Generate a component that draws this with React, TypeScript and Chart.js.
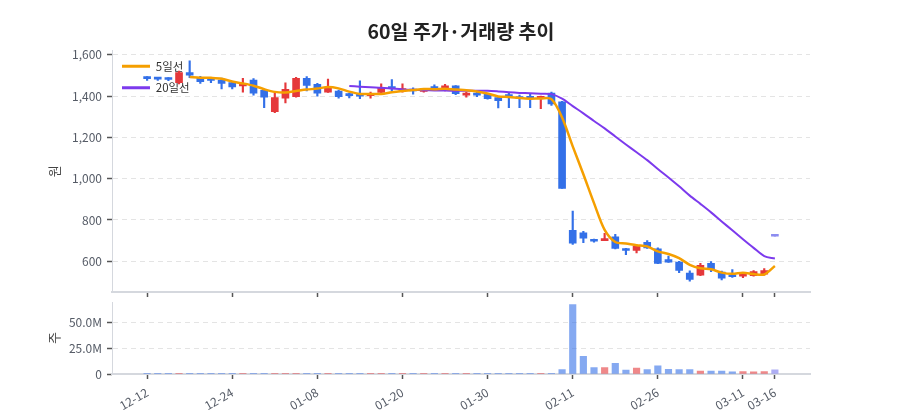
import React, { useEffect, useRef } from 'react';
import { Chart, registerables } from 'chart.js';

Chart.register(...registerables);

const FONT = "'Noto Sans CJK KR', 'Noto Sans', sans-serif";
Chart.defaults.font.family = FONT;

// ---- data ----
const dates = [
  '12-12', '12-15', '12-16', '12-17', '12-18', '12-19', '12-22', '12-23', '12-24', '12-26',
  '12-29', '12-30', '01-02', '01-05', '01-06', '01-07', '01-08', '01-09', '01-12', '01-13',
  '01-14', '01-15', '01-16', '01-19', '01-20', '01-21', '01-22', '01-23', '01-26', '01-27',
  '01-28', '01-29', '01-30', '02-02', '02-03', '02-04', '02-05', '02-06', '02-09', '02-10',
  '02-11', '02-12', '02-13', '02-19', '02-20', '02-23', '02-24', '02-25', '02-26', '02-27',
  '03-03', '03-04', '03-05', '03-06', '03-09', '03-10', '03-11', '03-12', '03-13', '03-16',
];
const tickLabels = ['12-12', '12-24', '01-08', '01-20', '01-30', '02-11', '02-26', '03-11', '03-16'];
const priceTicks = [600, 800, 1000, 1200, 1400, 1600];
const volumeTicks = [0, 25, 50];

const opens = [
  1488, 1486, 1484, 1465, 1515, 1490, 1482, 1478, 1466, 1450,
  1478, 1428, 1325, 1390, 1398, 1487, 1458, 1420, 1425, 1413,
  1413, 1403, 1418, 1447, 1427, 1435, 1423, 1447, 1437, 1450,
  1405, 1414, 1410, 1393, 1408, 1398, 1395, 1390, 1415, 1373,
  750, 738, 703, 700, 718, 660, 652, 692, 660, 608,
  596, 543, 532, 590, 548, 530, 528, 530, 537, 721,
];
const highs = [
  1495, 1492, 1490, 1522, 1572, 1496, 1485, 1488, 1470, 1487,
  1485, 1432, 1420, 1465, 1492, 1495, 1462, 1483, 1430, 1415,
  1475, 1420, 1460, 1480, 1460, 1440, 1438, 1455, 1458, 1452,
  1420, 1420, 1412, 1398, 1415, 1405, 1410, 1400, 1420, 1375,
  843, 745, 707, 735, 730, 663, 680, 700, 665, 625,
  600, 553, 590, 598, 552, 560, 540, 555, 565, 721,
];
const lows = [
  1476, 1476, 1475, 1460, 1490, 1462, 1465, 1435, 1435, 1420,
  1405, 1345, 1320, 1368, 1395, 1425, 1400, 1418, 1390, 1392,
  1388, 1390, 1412, 1425, 1420, 1410, 1420, 1428, 1425, 1408,
  1395, 1398, 1385, 1343, 1345, 1345, 1345, 1340, 1355, 953,
  682, 690, 692, 700, 660, 632, 640, 662, 588, 594,
  545, 503, 530, 550, 510, 522, 520, 528, 532, 721,
];
const closes = [
  1485, 1483, 1481, 1515, 1502, 1470, 1476, 1462, 1445, 1455,
  1415, 1395, 1393, 1433, 1487, 1452, 1415, 1440, 1398, 1403,
  1400, 1414, 1442, 1436, 1435, 1425, 1435, 1437, 1450, 1412,
  1412, 1405, 1388, 1378, 1398, 1388, 1390, 1393, 1362, 953,
  688, 712, 697, 708, 662, 652, 672, 665, 590, 595,
  555, 512, 580, 562, 518, 525, 534, 550, 555, 721,
];
const ma5 = [
  null, null, null, null, 1493, 1490, 1489, 1485, 1471, 1462,
  1451, 1434, 1421, 1418, 1425, 1432, 1437, 1445, 1438, 1422,
  1411, 1411, 1411, 1419, 1425, 1430, 1435, 1434, 1436, 1432,
  1429, 1423, 1413, 1399, 1396, 1391, 1388, 1389, 1386, 1297,
  1157, 1022, 882, 752, 693, 686, 678, 672, 648, 635,
  615, 583, 566, 561, 545, 539, 544, 538, 536, 577,
];
const ma20 = [
  null, null, null, null, null, null, null, null, null, null,
  null, null, null, null, null, null, null, null, null, 1450,
  1446, 1443, 1441, 1437, 1433, 1431, 1429, 1428, 1428, 1426,
  1426, 1426, 1426, 1423, 1419, 1416, 1414, 1412, 1410, 1388,
  1352, 1317, 1280, 1244, 1205, 1166, 1128, 1090, 1047, 1006,
  963, 918, 878, 837, 793, 750, 707, 665, 625, 613,
];
// volume in millions of shares
const volumesM = [
  0.08, 0.3, 0.05, 0.3, 0.1, 0.05, 0.05, 0.05, 0.05, 0.3,
  0.05, 0.3, 0.3, 0.3, 0.3, 0.08, 0.05, 0.05, 0.05, 0.05,
  0.3, 0.05, 0.05, 0.05, 0.05, 0.05, 0.05, 0.05, 0.3, 0.05,
  0.05, 0.05, 0.05, 0.4, 0.05, 0.3, 0.05, 0.05, 0.6, 4.3,
  67, 17, 6.2, 6.2, 10.2, 3.7, 5.6, 4.3, 8, 4.6,
  4.3, 4.3, 2.8, 2.8, 2.8, 2, 2.3, 2, 2.3, 4,
];

// ---- styles ----
const RED = '#e5383b';
const BLUE = '#3370e8';
const FLAT = '#8c8cf0';
const RED_V = 'rgba(229,56,59,0.6)';
const BLUE_V = 'rgba(51,112,232,0.6)';
const FLAT_V = 'rgba(140,140,240,0.7)';
const ORANGE = '#f59f00';
const PURPLE = '#7c3aed';
const TICK_TEXT = '#555b66';
const AXIS_LINE = '#d5d8de';
const GRID = '#e4e4e4';

const X_MIN = -3.3;
const X_MAX = 62.3;
const tickIdx = tickLabels.map((l) => dates.indexOf(l));

const dir = (i: number) => (closes[i] > opens[i] ? 1 : closes[i] < opens[i] ? -1 : 0);
const candleColors = dates.map((_, i) => (dir(i) > 0 ? RED : dir(i) < 0 ? BLUE : FLAT));
const volColors = dates.map((_, i) => (dir(i) > 0 ? RED_V : dir(i) < 0 ? BLUE_V : FLAT_V));

const lineData = (arr: (number | null)[]) =>
  arr.map((v, i) => ({ x: i, y: v })).filter((p) => p.y !== null);

// legend inside the plot area, title centred over the plot area
const areaBoxes = {
  id: 'areaBoxes',
  afterLayout(chart: any) {
    const ca = chart.chartArea;
    if (!ca) return;
    const lg = chart.legend;
    if (lg) {
      lg.top = ca.top;
      lg.bottom = ca.bottom;
      lg.left = ca.left;
    }
    const tb = chart.titleBlock;
    if (tb) {
      tb.left = ca.left;
      tb.right = ca.right;
      tb.width = ca.right - ca.left;
    }
  },
};

function xScale(showLabels: boolean, height: number) {
  return {
    type: 'linear',
    min: X_MIN,
    max: X_MAX,
    offset: false,
    afterBuildTicks: (s: any) => {
      s.ticks = tickIdx.map((v) => ({ value: v }));
    },
    afterFit: (s: any) => {
      s.height = height;
    },
    grid: {
      display: true,
      offset: false,
      drawOnChartArea: false,
      drawTicks: true,
      tickLength: 5,
      tickColor: '#555',
      tickWidth: 1.5,
    },
    border: { display: true, color: AXIS_LINE, width: 2 },
    ticks: showLabels
      ? {
          display: true,
          autoSkip: false,
          minRotation: 30,
          maxRotation: 30,
          padding: 6,
          color: TICK_TEXT,
          font: { size: 12, family: FONT },
          callback: (v: any) => dates[Math.round(v)] ?? '',
        }
      : { display: false },
  };
}

function yScaleCommon(title: string, tickValues: number[]) {
  return {
    afterFit: (s: any) => {
      s.width = 104;
    },
    afterBuildTicks: (s: any) => {
      s.ticks = tickValues.map((v) => ({ value: v }));
    },
    grid: {
      color: GRID,
      drawTicks: true,
      tickLength: 5,
      tickColor: '#555',
      tickWidth: 1.5,
    },
    border: { display: true, color: AXIS_LINE, width: 1, dash: [5, 4] },
    title: {
      display: true,
      text: title,
      color: '#444',
      font: { size: 13, family: FONT },
      padding: { top: 38, bottom: 0 },
    },
  };
}

export default function App() {
  const topRef = useRef<HTMLCanvasElement>(null);
  const botRef = useRef<HTMLCanvasElement>(null);

  useEffect(() => {
    const top = new Chart(topRef.current as HTMLCanvasElement, {
      type: 'bar',
      plugins: [areaBoxes],
      data: {
        datasets: [
          {
            type: 'line',
            label: '5일선',
            data: lineData(ma5),
            borderColor: ORANGE,
            backgroundColor: ORANGE,
            borderWidth: 2.5,
            pointRadius: 0,
            tension: 0.3,
            order: 0,
          } as any,
          {
            type: 'line',
            label: '20일선',
            data: lineData(ma20),
            borderColor: PURPLE,
            backgroundColor: PURPLE,
            borderWidth: 2,
            pointRadius: 0,
            tension: 0.3,
            order: 1,
          } as any,
          {
            type: 'bar',
            label: 'body',
            data: dates.map((_, i) => ({ x: i, y: [opens[i], closes[i]] })),
            backgroundColor: candleColors,
            borderWidth: 0,
            barThickness: 7,
            minBarLength: 2,
            grouped: false,
            order: 2,
          } as any,
          {
            type: 'bar',
            label: 'wick',
            data: dates.map((_, i) => ({ x: i, y: [lows[i], highs[i]] })),
            backgroundColor: candleColors,
            borderWidth: 0,
            barThickness: 1.5,
            grouped: false,
            order: 3,
          } as any,
        ],
      },
      options: {
        responsive: false,
        animation: false,
        events: [],
        layout: { padding: { left: 0, right: 82, top: 0, bottom: 0 } },
        plugins: {
          title: {
            display: true,
            text: '60일 주가·거래량 추이',
            color: '#222',
            font: { size: 19.5, weight: 'bold', family: FONT },
            padding: { top: 12.3, bottom: 6.9 },
          },
          legend: {
            display: true,
            position: 'chartArea',
            align: 'start',
            labels: {
              color: '#333',
              font: { size: 11.5, family: FONT },
              boxWidth: 28,
              boxHeight: 3,
              padding: 10,
              generateLabels: (chart: any) =>
                Chart.defaults.plugins.legend.labels
                  .generateLabels(chart)
                  .filter((it: any) => it.datasetIndex < 2)
                  .map((it: any) => ({ ...it, fillStyle: it.strokeStyle, lineWidth: 0 })),
            },
          },
          tooltip: { enabled: false },
        },
        scales: {
          x: xScale(false, 16) as any,
          y: {
            ...yScaleCommon('원', priceTicks),
            min: 451,
            max: 1621,
            ticks: {
              padding: 5,
              color: TICK_TEXT,
              font: { size: 12, family: FONT },
              callback: (v: any) => Number(v).toLocaleString('en-US'),
            },
          } as any,
        },
      } as any,
    });

    const bot = new Chart(botRef.current as HTMLCanvasElement, {
      type: 'bar',
      data: {
        datasets: [
          {
            label: '거래량',
            data: dates.map((_, i) => ({ x: i, y: volumesM[i] })),
            backgroundColor: volColors,
            borderWidth: 0,
            barThickness: 6.5,
            grouped: false,
          } as any,
        ],
      },
      options: {
        responsive: false,
        animation: false,
        events: [],
        layout: { padding: { left: 0, right: 82, top: 8, bottom: 0 } },
        plugins: {
          legend: { display: false },
          title: { display: false },
          tooltip: { enabled: false },
        },
        scales: {
          x: xScale(true, 38) as any,
          y: {
            ...yScaleCommon('주', volumeTicks),
            min: 0,
            max: 69.3,
            ticks: {
              padding: 5,
              color: TICK_TEXT,
              font: { size: 12, family: FONT },
              callback: (v: any) => (Number(v) === 0 ? '0' : `${Number(v).toFixed(1)}M`),
            },
          } as any,
        },
      } as any,
    });

    return () => {
      top.destroy();
      bot.destroy();
    };
  }, []);

  return (
    <div style={{ position: 'relative', width: 884, height: 404 }}>
      <canvas
        ref={topRef}
        width={884}
        height={300}
        style={{ position: 'absolute', left: 0, top: 0, width: 884, height: 300 }}
      />
      <canvas
        ref={botRef}
        width={884}
        height={122}
        style={{ position: 'absolute', left: 0, top: 282, width: 884, height: 122 }}
      />
    </div>
  );
}
